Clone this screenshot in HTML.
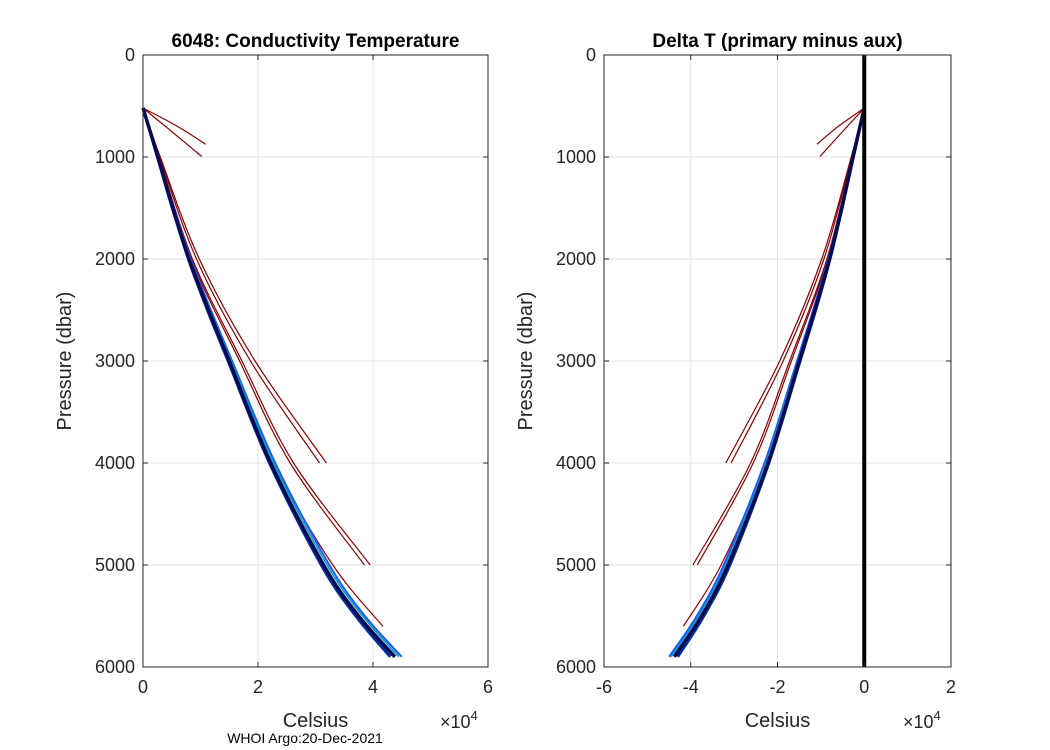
<!DOCTYPE html>
<html><head><meta charset="utf-8"><style>
body{margin:0;background:#fff;}
svg{display:block;font-family:"Liberation Sans",sans-serif;}
</style></head><body>
<svg id="fig" width="1050" height="750" viewBox="0 0 1050 750"></svg>
<script>
// pressures (dbar) and values (×1e4 Celsius)
const bundleP = [520,1000,1500,2000,2500,3000,4000,5000,5500,5900];
const bundleA = [0,0.26,0.52,0.80,1.14,1.50,2.22,3.14,3.75,4.38];
const bundleB = [0,0.27,0.54,0.83,1.18,1.55,2.30,3.24,3.86,4.50];
const bundleC = [0,0.26,0.53,0.81,1.16,1.53,2.27,3.20,3.82,4.45];
const bundleD = [0,0.25,0.51,0.79,1.12,1.48,2.20,3.10,3.70,4.30];
const red1P = [520,700,875];       const red1V = [0,0.6,1.09];
const red2P = [520,760,995];       const red2V = [0,0.52,1.02];
const red3P = [520,1000,2000,3000,4000]; const red3V = [0,0.30,0.98,1.95,3.19];
const red4P = [520,1000,2000,3000,4000]; const red4V = [0,0.29,0.93,1.87,3.07];
const red5P = [520,1000,2000,3000,4000,5000]; const red5V = [0,0.28,0.86,1.72,2.62,3.95];
const red6P = [520,1000,2000,3000,4000,5000]; const red6V = [0,0.27,0.84,1.68,2.56,3.85];
const red7P = [520,1000,2000,3000,4000,5000,5600]; const red7V = [0,0.27,0.82,1.55,2.27,3.30,4.17];
const leftTicks = [0,2,4,6];
const rightTicks = [-6,-4,-2,0,2];
const yTicks = [0,1000,2000,3000,4000,5000,6000];

const NS="http://www.w3.org/2000/svg";
const svg=document.getElementById('fig');
function el(t,a,parent){const e=document.createElementNS(NS,t);for(const k in a)e.setAttribute(k,a[k]);(parent||svg).appendChild(e);return e;}
const Y0=55,Y1=667;
const ys=p=>Y0+(p/6000)*(Y1-Y0);
function smooth(pts){
  let d='M'+pts[0][0]+','+pts[0][1];
  for(let i=0;i<pts.length-1;i++){
    const p0=pts[Math.max(0,i-1)],p1=pts[i],p2=pts[i+1],p3=pts[Math.min(pts.length-1,i+2)];
    const c1=[p1[0]+(p2[0]-p0[0])/6,p1[1]+(p2[1]-p0[1])/6];
    const c2=[p2[0]-(p3[0]-p1[0])/6,p2[1]-(p3[1]-p1[1])/6];
    d+=` C${c1[0].toFixed(1)},${c1[1].toFixed(1)} ${c2[0].toFixed(1)},${c2[1].toFixed(1)} ${p2[0].toFixed(1)},${p2[1].toFixed(1)}`;
  }
  return d;
}

function panel(x0,x1,xmin,xmax,xt,sign,title,name){
  const xs=v=>x0+(v-xmin)/(xmax-xmin)*(x1-x0);
  const g=el('g',{});
  
  
  xt.forEach(t=>{el('line',{x1:xs(t),x2:xs(t),y1:Y0,y2:Y1,stroke:'#e3e3e3'},g);});
  yTicks.forEach(t=>{el('line',{x1:x0,x2:x1,y1:ys(t),y2:ys(t),stroke:'#e3e3e3'},g);});
  function line(P,V,col,w,n){
    const pts=P.map((p,i)=>[xs(sign*V[i]),ys(p)]);
    const l=el('path',{d:smooth(pts),fill:'none',stroke:col,'stroke-width':w,'stroke-linejoin':'round'},g);
    
    
  }
  line(red1P,red1V,'#8b0000',1.2,'profile-red-1');
  line(red2P,red2V,'#8b0000',1.2,'profile-red-2');
  line(red3P,red3V,'#8b0000',1.2,'profile-red-3');
  line(red4P,red4V,'#8b0000',1.2,'profile-red-4');
  line(red5P,red5V,'#8b0000',1.2,'profile-red-5');
  line(red6P,red6V,'#8b0000',1.2,'profile-red-6');
  line(red7P,red7V,'#a00000',1.2,'profile-red-7');
  line(bundleP,bundleB,'#1e5bff',2,'profile-blue');
  line(bundleP,bundleC,'#00a0c0',1.5,'profile-cyan');
  line(bundleP,bundleD,'#0030a0',3,'profile-navy');
  line(bundleP,bundleA,'#0a0a50',3.5,'profile-dark');
  if(sign<0){const z=el('line',{x1:xs(0),x2:xs(0),y1:Y0,y2:Y1,stroke:'#000','stroke-width':4},g);
    }
  el('rect',{x:x0,y:Y0,width:x1-x0,height:Y1-Y0,fill:'none',stroke:'#262626','stroke-width':1},g);
  xt.forEach(t=>{const x=xs(t);
    el('line',{x1:x,x2:x,y1:Y1,y2:Y1-5,stroke:'#262626'},g);el('line',{x1:x,x2:x,y1:Y0,y2:Y0+5,stroke:'#262626'},g);
    const tx=el('text',{x:x,y:Y1+26,'text-anchor':'middle','font-size':18,fill:'#262626'},g);tx.textContent=t;
    });
  yTicks.forEach(t=>{const y=ys(t);
    el('line',{x1:x0,x2:x0+5,y1:y,y2:y,stroke:'#262626'},g);el('line',{x1:x1,x2:x1-5,y1:y,y2:y,stroke:'#262626'},g);
    const tx=el('text',{x:x0-8,y:y+6,'text-anchor':'end','font-size':18,fill:'#262626'},g);tx.textContent=t;
    });
  const ti=el('text',{x:(x0+x1)/2,y:Y0-8,'text-anchor':'middle','font-size':19,'font-weight':'bold',fill:'#000'},g);ti.textContent=title;
  
  const xl=el('text',{x:(x0+x1)/2,y:727,'text-anchor':'middle','font-size':20,fill:'#262626'},g);xl.textContent='Celsius';
  
  const yl=el('text',{x:0,y:0,'text-anchor':'middle','font-size':20,fill:'#262626',transform:`translate(${x0-72},${(Y0+Y1)/2}) rotate(-90)`},g);yl.textContent='Pressure (dbar)';
  
  const ex=el('text',{x:x1-48,y:728,'font-size':18,fill:'#262626'},g);ex.innerHTML='×10<tspan dy="-8" font-size="13">4</tspan>';
  
}
panel(143,488,0,6,leftTicks,1,'6048: Conductivity Temperature','left-panel');
panel(604,951,-6,2,rightTicks,-1,'Delta T (primary minus aux)','right-panel');
const f=el('text',{x:305,y:743,'text-anchor':'middle','font-size':14,fill:'#000'});f.textContent='WHOI Argo:20-Dec-2021';


</script>
</body></html>
